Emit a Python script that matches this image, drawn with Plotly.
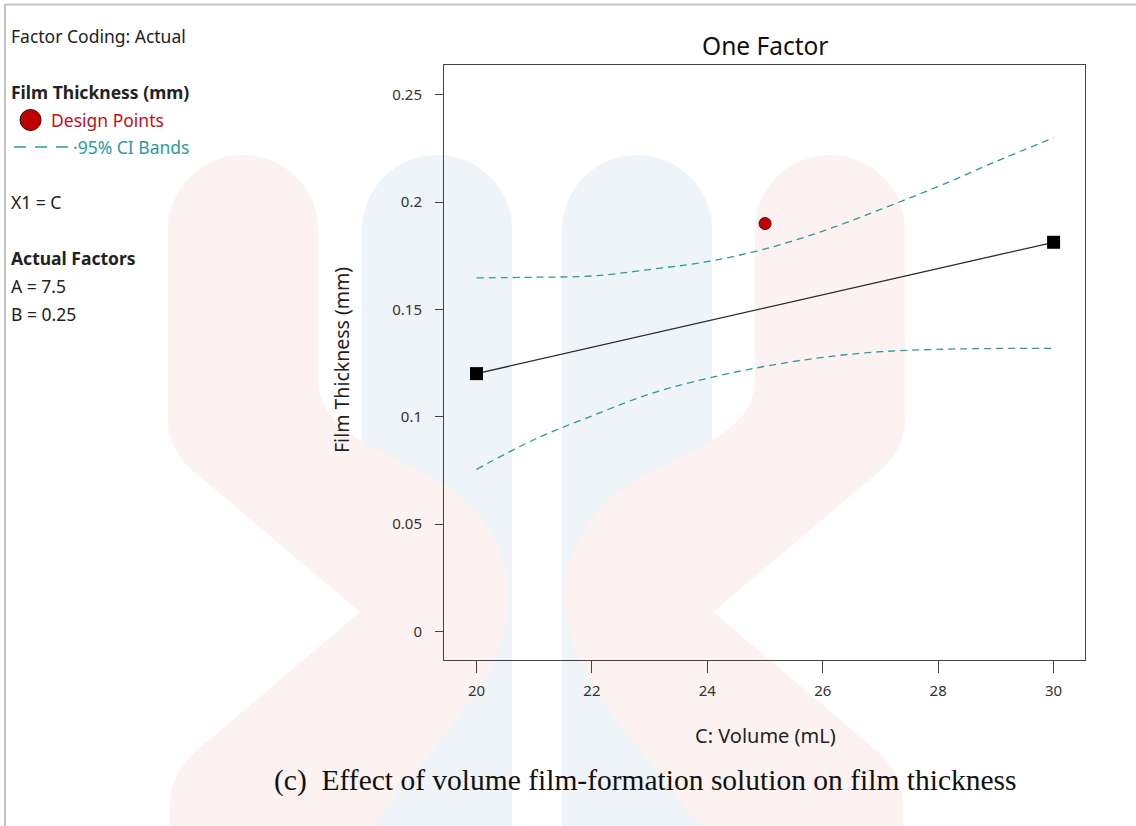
import plotly.graph_objects as go

# ---------------- data ----------------
volume_ci = [20, 21, 22, 23, 24, 25, 26, 27, 28, 29, 30]
ci_upper = [0.1647, 0.1650, 0.1656, 0.1686, 0.1723, 0.1782, 0.1865, 0.1966, 0.2073, 0.2189, 0.2300]
ci_lower = [0.0755, 0.0894, 0.1004, 0.1106, 0.1179, 0.1235, 0.1277, 0.1303, 0.1314, 0.1318, 0.1318]
fit_x = [20, 30]
fit_y = [0.1201, 0.1813]
design_x = [25]
design_y = [0.190]
x_ticks = [20, 22, 24, 26, 28, 30]
y_ticks = [0, 0.05, 0.10, 0.15, 0.20, 0.25]
y_ticktext = ["0", "0.05", "0.1", "0.15", "0.2", "0.25"]

# ---------------- layout geometry (pixels) ----------------
W, H = 1136, 826
L, R, T, B = 444, 1085, 65, 660

def px(X):
    return (X - L) / (R - L)

def py(Y):
    return (B - Y) / (B - T)

def path(cmds):
    out = []
    for c in cmds:
        op = c[0]
        pts = c[1:]
        s = op + " " + " ".join(f"{px(x):.5f},{py(y):.5f}" for x, y in pts)
        out.append(s)
    return " ".join(out) + " Z"

TEAL = "#2c9a9e"
RED = "#c0101a"
PINK = "#fdf2f2"
BLUE = "#eef4f8"

fig = go.Figure()

fig.add_trace(go.Scatter(x=volume_ci, y=ci_upper, mode="lines", line=dict(color=TEAL, width=1.3, dash="7px,5px", shape="spline"), hoverinfo="skip", showlegend=False))
fig.add_trace(go.Scatter(x=volume_ci, y=ci_lower, mode="lines", line=dict(color=TEAL, width=1.3, dash="7px,5px", shape="spline"), hoverinfo="skip", showlegend=False))
fig.add_trace(go.Scatter(x=fit_x, y=fit_y, mode="lines+markers", line=dict(color="#2a2a2a", width=1.3),
                         marker=dict(symbol="square", size=13, color="black"), showlegend=False))
fig.add_trace(go.Scatter(x=design_x, y=design_y, mode="markers",
                         marker=dict(symbol="circle", size=12, color="#c00000", line=dict(color="#5a0000", width=1)), showlegend=False))

shapes = []
# watermark: blue bars
k = 0.5523 * 75
for cx in (437, 637):
    shapes.append(dict(type="path", xref="paper", yref="paper", layer="below", line=dict(width=0), fillcolor=BLUE,
                       path=path([("M", (cx - 75, 840)), ("L", (cx - 75, 230)),
                                  ("C", (cx - 75, 230 - k), (cx - k, 155), (cx, 155)),
                                  ("C", (cx + k, 155), (cx + 75, 230 - k), (cx + 75, 230)),
                                  ("L", (cx + 75, 840))])))

def red_cmds(f):
    return [("M", (f(168), 230)), ("L", (f(168), 420)), ("Q", (f(168), 448), (f(192), 470)), ("L", (f(360), 612)),
            ("L", (f(195), 752)), ("Q", (f(170), 776), (f(170), 805)), ("L", (f(170), 840)), ("L", (f(362), 840)),
            ("L", (f(468), 705)), ("Q", (f(515), 640), (f(508), 580)), ("Q", (f(498), 520), (f(440), 482)),
            ("L", (f(360), 440)), ("Q", (f(318), 415), (f(318), 380)), ("L", (f(318), 230)),
            ("C", (f(318), 230 - k), (f(243 + k), 155), (f(243), 155)),
            ("C", (f(243 - k), 155), (f(168), 230 - k), (f(168), 230))]

for f in (lambda x: x, lambda x: 1073 - x):
    shapes.append(dict(type="path", xref="paper", yref="paper", layer="below", line=dict(width=0), fillcolor=PINK,
                       path=path(red_cmds(f))))

# outer gray frame (top and left)
shapes.append(dict(type="line", xref="paper", yref="paper", x0=px(5), x1=px(1140), y0=py(4.5), y1=py(4.5), line=dict(color="#c4c4c4", width=2)))
shapes.append(dict(type="line", xref="paper", yref="paper", x0=px(5), x1=px(5), y0=py(4), y1=py(830), line=dict(color="#c4c4c4", width=2)))

# legend symbols
shapes.append(dict(type="circle", xref="paper", yref="paper", x0=px(20), x1=px(41), y0=py(109.5), y1=py(130.5),
                   fillcolor="#c00000", line=dict(color="#3a0000", width=1)))
shapes.append(dict(type="line", xref="paper", yref="paper", x0=px(14), x1=px(70), y0=py(147), y1=py(147),
                   line=dict(color=TEAL, width=1.3, dash="12px,9px")))

SANS = "Noto Sans"
ann = []
def text(t, X, Y, size=17.5, color="#222", xanchor="left", bold=False, family=SANS, angle=0):
    ann.append(dict(text=(f"<b>{t}</b>" if bold else t), x=px(X), y=py(Y), xref="paper", yref="paper",
                    xanchor=xanchor, yanchor="middle", showarrow=False, textangle=angle,
                    font=dict(family=family, size=size, color=color)))

text("Factor Coding: Actual", 9, 36)
text("Film Thickness (mm)", 9, 92, bold=True)
text("Design Points", 49, 120, color=RED)
text("·95% CI Bands", 71, 147, color=TEAL)
text("X1 = C", 9, 202)
text("Actual Factors", 9, 258, bold=True)
text("A = 7.5", 9, 286)
text("B = 0.25", 9, 314)
text("One Factor", 765, 46, size=24.5, color="#111", xanchor="center")
text("C: Volume (mL)", 765, 735, size=20, color="#222", xanchor="center")
text("Film Thickness (mm)", 341, 360, size=19.5, color="#222", xanchor="center", angle=-90)
text("(c)  Effect of volume film-formation solution on film thickness", 645, 780, size=29.5, color="#111",
     xanchor="center", family="Liberation Serif")

x0 = 20 - (476.5 - L) / 57.71
x1 = 30 + (R - 1053.6) / 57.71
y0 = -(B - 631.4) / 2146.4
y1 = 0.25 + (94.8 - T) / 2146.4

fig.update_layout(
    width=W, height=H,
    margin=dict(l=L, r=W - R, t=T, b=H - B, pad=0),
    paper_bgcolor="white", plot_bgcolor="rgba(0,0,0,0)",
    shapes=shapes, annotations=ann, showlegend=False,
    font=dict(family=SANS, color="#333"),
    xaxis=dict(range=[x0, x1], tickvals=x_ticks, ticks="outside", ticklen=12, tickcolor="#444", tickwidth=1,
               showgrid=False, zeroline=False, showline=True, mirror=True, linecolor="#444", linewidth=1,
               ticklabelstandoff=5, tickfont=dict(size=15, color="#333")),
    yaxis=dict(range=[y0, y1], tickvals=y_ticks, ticktext=y_ticktext, ticks="outside", ticklen=8, tickcolor="#444",
               tickwidth=1, showgrid=False, zeroline=False, showline=True, mirror=True, linecolor="#444", linewidth=1,
               ticklabelstandoff=10, tickfont=dict(size=15, color="#333")),
)

fig.write_html("out.html")
